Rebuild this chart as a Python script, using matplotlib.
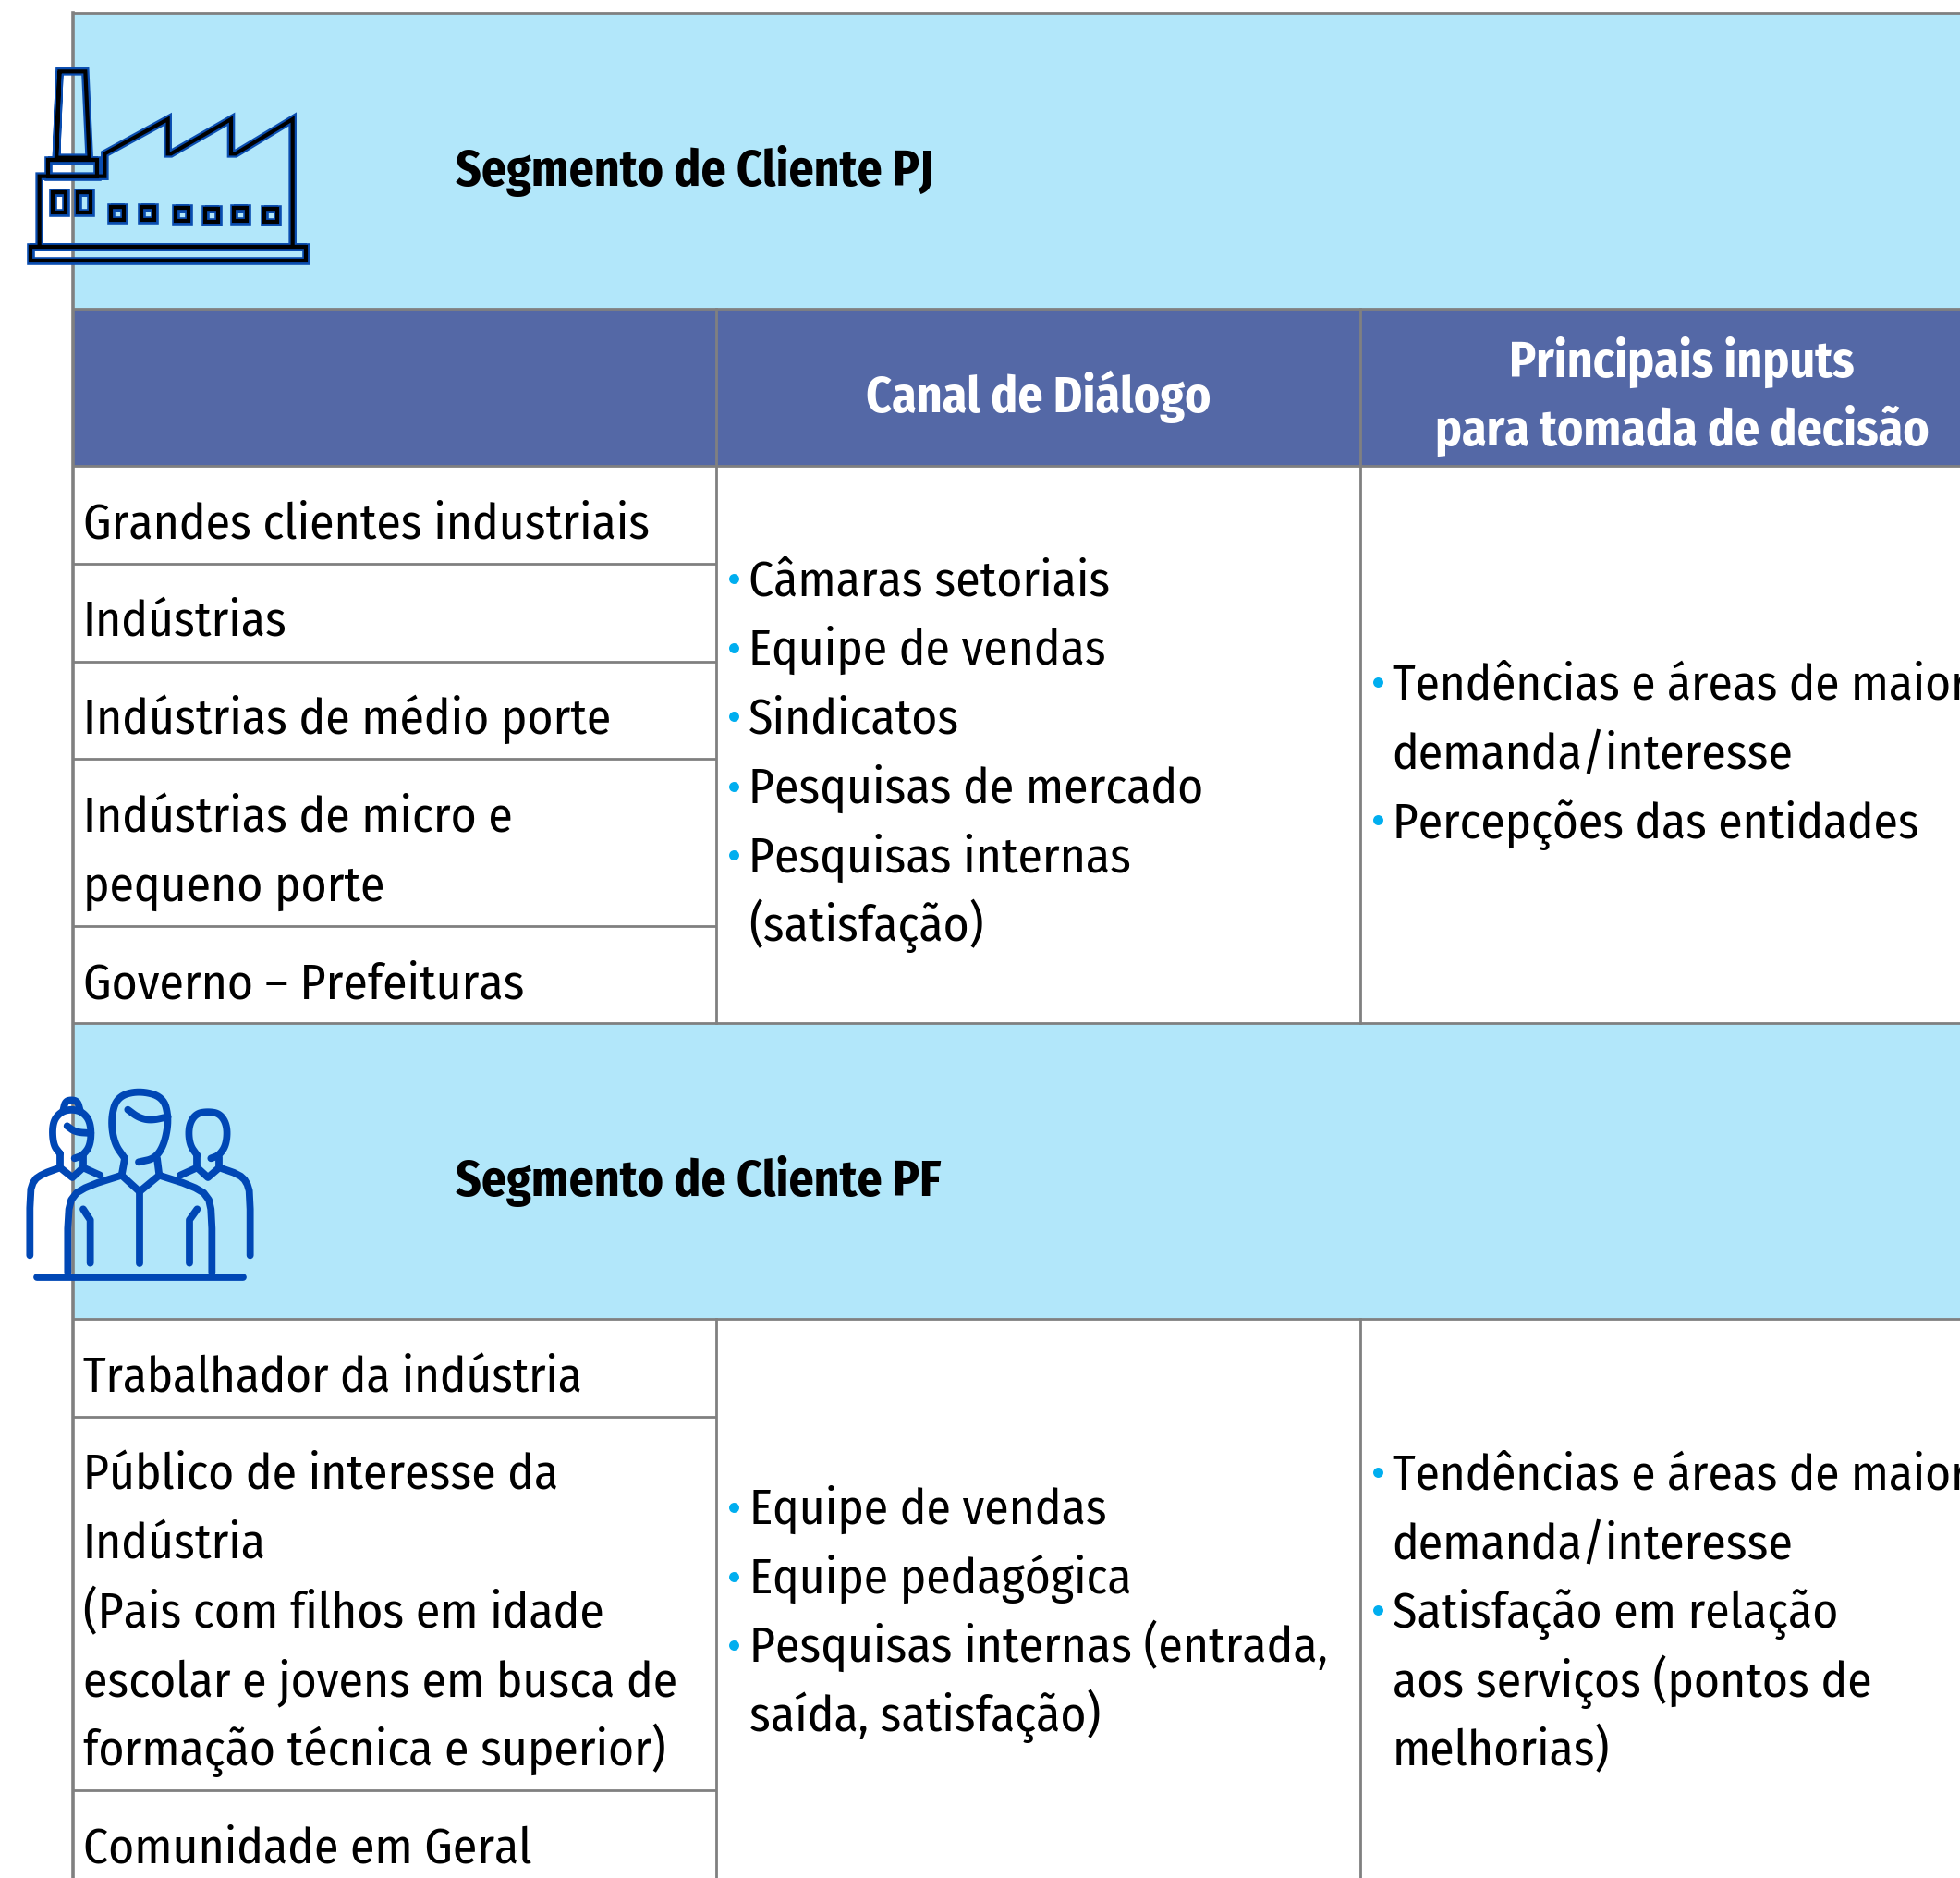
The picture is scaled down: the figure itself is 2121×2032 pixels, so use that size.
import matplotlib
matplotlib.use('Agg')
import matplotlib.pyplot as plt
from matplotlib.patches import Rectangle

W, H = 2121, 2033
plt.rcParams['font.family'] = ['Fira Sans Condensed', 'Lato', 'DejaVu Sans']
BODY = 38.5
BOLD = 38.6
# lines that start with a kerned pair the renderer leaves open
tight_lines = {'Tendências e áreas de maior': 38.2, 'Trabalhador da indústria': 38.15,
               'Percepções das entidades': 38.3}

# cell texts: (x, baseline y, text) in pixels of the picture
row_labels = [
    (90, 583, 'Grandes clientes industriais'),
    (90, 689, 'Indústrias'),
    (90, 794, 'Indústrias de médio porte'),
    (90, 901, 'Indústrias de micro e'),
    (90, 975, 'pequeno porte'),
    (90, 1081, 'Governo – Prefeituras'),
    (90, 1507, 'Trabalhador da indústria'),
    (90, 1612, 'Público de interesse da'),
    (90, 1687, 'Indústria'),
    (90, 1761, '(Pais com filhos em idade'),
    (90, 1835, 'escolar e jovens em busca de'),
    (90, 1910, 'formação técnica e superior)'),
    (90, 2016, 'Comunidade em Geral'),
]
col2_text = [
    (810, 645, 'Câmaras setoriais'),
    (810, 719, 'Equipe de vendas'),
    (810, 794, 'Sindicatos'),
    (810, 869, 'Pesquisas de mercado'),
    (810, 944, 'Pesquisas internas'),
    (810, 1018, '(satisfação)'),
    (811, 1649, 'Equipe de vendas'),
    (811, 1724, 'Equipe pedagógica'),
    (811, 1798, 'Pesquisas internas (entrada,'),
    (811, 1873, 'saída, satisfação)'),
]
col3_text = [
    (1507, 757, 'Tendências e áreas de maior'),
    (1506, 831, 'demanda/interesse'),
    (1507, 907, 'Percepções das entidades'),
    (1507, 1612, 'Tendências e áreas de maior'),
    (1506, 1686, 'demanda/interesse'),
    (1507, 1761, 'Satisfação em relação'),
    (1507, 1836, 'aos serviços (pontos de'),
    (1507, 1910, 'melhorias)'),
]
bullets_x = [794] * 5 + [794] * 3 + [1491] * 2 + [1491] * 2
bullets_y = [627, 702, 776, 852, 926, 1632, 1707, 1781, 739, 888, 1594, 1743]

band_y = [(15, 335), (1108, 1428)]
band_titles = ['Segmento de Cliente PJ', 'Segmento de Cliente PF']
band_title_y = [185, 1278]
hline_y = [15, 335, 505, 1108, 1428]
row_lines = [611, 717, 822, 1003, 1534, 1938]

fig = plt.figure(figsize=(W / 100, H / 100), dpi=100)
ax = fig.add_axes([0, 0, 1, 1])
ax.set_xlim(0, W)
ax.set_ylim(H, 0)
ax.axis('off')

LIGHT = '#B2E7FA'
DARK = '#5468A6'
GRID = '#808080'
lw = 2.0

for y0, y1 in band_y:
    ax.add_patch(Rectangle((79, y0), W - 79, y1 - y0, fc=LIGHT, ec='none', zorder=1))
ax.add_patch(Rectangle((79, 335), W - 79, 170, fc=DARK, ec='none', zorder=1))

for y in hline_y:
    ax.plot([79, W], [y, y], color=GRID, lw=lw, zorder=2, solid_capstyle='butt')
for y in row_lines:
    ax.plot([79, 775], [y, y], color=GRID, lw=lw, zorder=2, solid_capstyle='butt')
ax.plot([79, 79], [15, H], color=GRID, lw=lw + 0.6, zorder=2)
for x in [775, 1472]:
    ax.plot([x, x], [335, 1108], color=GRID, lw=lw, zorder=2)
    ax.plot([x, x], [1428, H], color=GRID, lw=lw, zorder=2)

for title, y in zip(band_titles, band_title_y):
    ax.text(493, y, title, fontsize=BOLD, fontweight='bold', color='black', va='center', zorder=4)

ax.text(1124, 429, 'Canal de Diálogo', fontsize=BOLD, fontweight='bold', color='white', ha='center', va='center', zorder=4)
ax.text(1820, 392, 'Principais inputs', fontsize=BOLD, fontweight='bold', color='white', ha='center', va='center', zorder=4)
ax.text(1820, 466, 'para tomada de decisão', fontsize=BOLD, fontweight='bold', color='white', ha='center', va='center', zorder=4)

for x, y, t in row_labels + col2_text + col3_text:
    ax.text(x, y, t, fontsize=tight_lines.get(t, BODY), color='black', va='baseline', zorder=4)
ax.scatter(bullets_x, bullets_y, s=62, color='#00AEEF', linewidths=0, zorder=4)


# icons: outlines, in 3x crop coordinates
def to_px(pts, ox, oy):
    return [p[0] / 3 + ox for p in pts], [p[1] / 3 + oy for p in pts]


def chaikin(pts, n=3):
    for _ in range(n):
        new = [pts[0]]
        for a, b in zip(pts[:-1], pts[1:]):
            new.append((0.75 * a[0] + 0.25 * b[0], 0.75 * a[1] + 0.25 * b[1]))
            new.append((0.25 * a[0] + 0.75 * b[0], 0.25 * a[1] + 0.75 * b[1]))
        new.append(pts[-1])
        pts = new
    return pts


def box(x0, y0, x1, y1):
    return [(x0, y0), (x1, y0), (x1, y1), (x0, y1), (x0, y0), (x1, y0)]


factory = [
    [(183, 395), (193, 115), (277, 115), (290, 395), (183, 395), (193, 115)],
    box(155, 402, 315, 455),
    [(128, 680), (128, 455), (340, 455), (340, 382), (545, 270), (545, 382), (555, 382),
     (750, 270), (750, 382), (765, 382), (950, 270), (950, 680)],
    box(98, 685, 992, 728),
    box(172, 507, 213, 573),
    box(252, 507, 293, 573),
]
for cx, cy in [(380, 577), (480, 577), (590, 580), (688, 582), (780, 579), (879, 581)]:
    factory.append(box(cx - 21, cy - 21, cx + 21, cy + 21))
for pts in factory:
    xs, ys = to_px(pts, 0, 40)
    ax.plot(xs, ys, color='#0A4DB0', lw=6.2, zorder=5, solid_joinstyle='miter', solid_capstyle='butt')
for pts in factory:
    xs, ys = to_px(pts, 0, 40)
    ax.plot(xs, ys, color='black', lw=3.0, zorder=6, solid_joinstyle='miter', solid_capstyle='butt')

people = [
    chaikin([(405, 310), (370, 260), (360, 180), (380, 110), (450, 90), (530, 110), (548, 180), (535, 260), (505, 310), (450, 322)]),
    chaikin([(415, 152), (450, 178), (490, 187), (545, 175)]),
    [(405, 310), (395, 365)],
    [(510, 310), (517, 365)],
    chaikin([(220, 680), (220, 490), (235, 430), (290, 398), (395, 365)], 1) + [(453, 418)],
    [(453, 418), (517, 365)] + chaikin([(517, 365), (620, 398), (675, 430), (688, 490), (688, 680)], 1),
    [(453, 418), (453, 650)],
    [(270, 475), (293, 510), (293, 650)],
    [(640, 475), (615, 510), (615, 650)],
    [(120, 695), (788, 695)],
    chaikin([(205, 155), (212, 125), (232, 120), (252, 125), (260, 155)]),
    chaikin([(195, 295), (172, 265), (170, 195), (195, 160), (232, 150), (270, 160), (295, 195), (295, 265), (270, 300), (242, 310)]),
    chaikin([(218, 205), (245, 225), (295, 228)]),
    [(195, 295), (195, 340)],
    [(270, 300), (270, 340)],
    chaikin([(97, 625), (97, 420), (110, 380), (140, 360), (195, 340)], 1) + [(235, 372), (270, 340), (325, 365)],
    chaikin([(640, 300), (615, 265), (612, 205), (635, 165), (675, 158), (715, 165), (738, 205), (735, 265), (712, 300), (685, 310)]),
    [(640, 300), (640, 340)],
    [(712, 305), (712, 340)],
    [(585, 365), (640, 340), (675, 372), (712, 340)] + chaikin([(712, 340), (775, 362), (800, 385), (812, 425), (812, 625)], 1),
]
for pts in people:
    xs, ys = to_px(pts, 0, 1151)
    ax.plot(xs, ys, color='#0047B5', lw=5.6, zorder=5, solid_capstyle='round', solid_joinstyle='round')

fig.savefig('out.png', dpi=100, facecolor='white')
